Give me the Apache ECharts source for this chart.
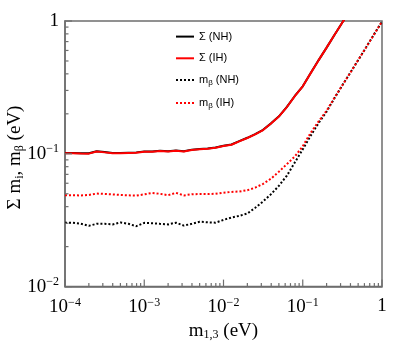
<!DOCTYPE html>
<html>
<head>
<meta charset="utf-8">
<script src="https://cdn.jsdelivr.net/npm/echarts@6/dist/echarts.min.js"></script>
<style>
  html, body { margin: 0; padding: 0; background: #fff; }
  #chart { width: 407px; height: 346px; }
</style>
</head>
<body>
<div id="chart"></div>
<script>
window.onerror = function (msg) {
  document.body.insertAdjacentHTML("beforeend", "<div style='position:absolute;left:0;top:0;font:9px sans-serif;color:#00f'>" + msg + "</div>");
};

// lightest mass m_1,3 (eV)
var m13 = [
  1.0e-4, 1.26e-4, 1.58e-4, 2.0e-4, 2.51e-4, 3.16e-4, 3.98e-4, 5.01e-4, 6.31e-4, 7.94e-4,
  1.0e-3, 1.26e-3, 1.58e-3, 2.0e-3, 2.51e-3, 3.16e-3, 3.98e-3, 5.01e-3, 6.31e-3, 7.94e-3,
  1.0e-2, 1.26e-2, 1.58e-2, 2.0e-2, 2.51e-2, 3.16e-2, 3.98e-2, 5.01e-2, 6.31e-2, 7.94e-2,
  0.1, 0.126, 0.158, 0.2, 0.251, 0.316, 0.398, 0.501, 0.631, 0.794, 1.0
];
// sum of masses
var sumNH = [
  0.1015, 0.1015, 0.101, 0.1008, 0.1045, 0.103, 0.1015, 0.1015, 0.102, 0.1025,
  0.104, 0.104, 0.1055, 0.1045, 0.106, 0.1045, 0.1075, 0.1085, 0.1095, 0.1115,
  0.115, 0.1175, 0.1245, 0.132, 0.1405, 0.1515, 0.1695, 0.1915, 0.2255, 0.2725,
  0.3225, 0.4055, 0.5055, 0.6305, 0.7855, 0.9755, 1.2
];
var sumIH = [
  0.101, 0.101, 0.1005, 0.1003, 0.104, 0.1025, 0.101, 0.101, 0.1015, 0.102,
  0.1035, 0.1035, 0.105, 0.104, 0.1055, 0.104, 0.107, 0.108, 0.109, 0.111,
  0.1145, 0.117, 0.124, 0.1315, 0.14, 0.151, 0.169, 0.191, 0.225, 0.272,
  0.322, 0.405, 0.505, 0.63, 0.785, 0.975, 1.2
];
// effective beta-decay mass
var mbNH = [
  0.0303, 0.0303, 0.0298, 0.0287, 0.0297, 0.0297, 0.0294, 0.0304, 0.0297, 0.0285,
  0.0302, 0.0300, 0.0297, 0.0294, 0.0303, 0.0288, 0.0297, 0.0308, 0.0305, 0.0303,
  0.0318, 0.0331, 0.0341, 0.0355, 0.0392, 0.0438, 0.0497, 0.0575, 0.0685, 0.0860,
  0.108, 0.137, 0.170, 0.208, 0.262, 0.328, 0.408, 0.508, 0.634, 0.793, 0.99
];
var mbIH = [
  0.0488, 0.0487, 0.0486, 0.0490, 0.0502, 0.0499, 0.0495, 0.0490, 0.0487, 0.0484,
  0.0495, 0.0507, 0.0500, 0.0488, 0.0508, 0.0486, 0.0496, 0.0498, 0.0497, 0.0500,
  0.0510, 0.0516, 0.0520, 0.0532, 0.0556, 0.0594, 0.0650, 0.0734, 0.0836, 0.0955,
  0.114, 0.144, 0.175, 0.211, 0.264, 0.328, 0.408, 0.508, 0.634, 0.793, 0.99
];
var xMajor = [1e-4, 1e-3, 1e-2, 1e-1, 1];
var yMajor = [1e-2, 1e-1, 1];
var xLabels = ["{b|10}{s|\u22124}", "{b|10}{s|\u22123}", "{b|10}{s|\u22122}", "{b|10}{s|\u22121}", "{b|1}"];
var yLabels = ["{b|10}{s|\u22122}", "{b|10}{s|\u22121}", "{b|1}"];

function minorTicks(lo, hi) {
  var out = [];
  for (var d = lo; d < hi; d++) {
    for (var k = 2; k <= 9; k++) out.push(k * Math.pow(10, d));
  }
  return out;
}

function pairs(vals) {
  return vals.map(function (v, i) { return [m13[i], v]; });
}

var serif = "Liberation Serif";
var grey = "#6e6e6e";
var richLab = {
  b: { fontFamily: serif, fontSize: 19, color: "#000" },
  s: { fontFamily: serif, fontSize: 12, color: "#000", padding: [0, 0, 9, 0] }
};

var myChart = echarts.init(document.getElementById("chart"));
var option = {
  animation: false,
  grid: { left: 65, right: 25, top: 21, bottom: 52, show: true, borderColor: grey, borderWidth: 1.5 },
  legend: {
    orient: "vertical",
    left: 170,
    top: 26,
    itemWidth: 18,
    itemHeight: 14,
    itemGap: 10.5,
    itemStyle: { opacity: 0 },
    textStyle: {
      fontFamily: "Liberation Sans",
      fontSize: 11,
      color: "#000",
      rich: {
        n: { fontFamily: "Liberation Sans", fontSize: 11, color: "#000" },
        sub: { fontFamily: "Liberation Sans", fontSize: 8, color: "#000", padding: [6, 0, 0, 0] }
      }
    },
    formatter: function (name) {
      if (name.indexOf("mb") === 0) return "{n|m}{sub|\u03b2}{n|" + name.slice(2) + "}";
      return "{n|" + name + "}";
    },
    data: ["\u03a3 (NH)", "\u03a3 (IH)", "mb (NH)", "mb (IH)"]
  },
  xAxis: {
    type: "log",
    min: 1e-4,
    max: 1,
    name: "{b|m}{sub|1,3}{b| (eV)}",
    nameLocation: "middle",
    nameGap: 32,
    nameTextStyle: {
      rich: {
        b: { fontFamily: serif, fontSize: 19, color: "#000" },
        sub: { fontFamily: serif, fontSize: 12, color: "#000", padding: [8, 0, 0, 0] }
      }
    },
    axisLine: { lineStyle: { color: grey, width: 1.5 } },
    axisTick: { show: false },
    splitLine: { show: false },
    axisLabel: {
      margin: 10,
      customValues: xMajor,
      formatter: function (v) { return xLabels[Math.round(Math.log10(v)) + 4]; },
      rich: richLab
    }
  },
  yAxis: {
    type: "log",
    min: 1e-2,
    max: 1,
    axisLine: { lineStyle: { color: grey, width: 1.5 } },
    axisTick: { show: false },
    splitLine: { show: false },
    axisLabel: {
      margin: 6,
      customValues: yMajor,
      formatter: function (v) { return yLabels[Math.round(Math.log10(v)) + 2]; },
      rich: richLab
    }
  },
  series: [
    {
      name: "\u03a3 (NH)",
      type: "line",
      symbol: "none",
      data: pairs(sumNH),
      lineStyle: { color: "#000", width: 2 },
      itemStyle: { color: "#000" }
    },
    {
      name: "\u03a3 (IH)",
      type: "line",
      symbol: "none",
      data: pairs(sumIH),
      lineStyle: { color: "#ff0000", width: 2 },
      itemStyle: { color: "#ff0000" }
    },
    {
      name: "mb (NH)",
      type: "line",
      symbol: "none",
      data: pairs(mbNH),
      lineStyle: { color: "#000", width: 2, type: [2, 2] },
      itemStyle: { color: "#000" }
    },
    {
      name: "mb (IH)",
      type: "line",
      symbol: "none",
      data: pairs(mbIH),
      lineStyle: { color: "#ff0000", width: 2, type: [2, 2] },
      itemStyle: { color: "#ff0000" }
    }
  ]
};
myChart.setOption(option);

// ticks inside the frame and the y title, placed through the chart's own scales
var gfx = [];
function tick(x, y, len, horizontal) {
  var p = myChart.convertToPixel({ gridIndex: 0 }, [x, y]);
  gfx.push({
    type: "line",
    silent: true,
    z: 100,
    shape: horizontal
      ? { x1: p[0], y1: p[1], x2: p[0] + len, y2: p[1] }
      : { x1: p[0], y1: p[1], x2: p[0], y2: p[1] - len },
    style: { stroke: grey, lineWidth: 1.2 }
  });
}
xMajor.forEach(function (v) { tick(v, 0.01, 7, false); });
minorTicks(-4, 0).forEach(function (v) { tick(v, 0.01, 3.5, false); });
yMajor.forEach(function (v) { tick(1e-4, v, 7, true); });
minorTicks(-2, 0).forEach(function (v) { tick(1e-4, v, 3.5, true); });

var mid = myChart.convertToPixel({ gridIndex: 0 }, [1e-4, 0.1]);
gfx.push({
  type: "text",
  silent: true,
  x: 15,
  y: (21 + 294) / 2,
  rotation: Math.PI / 2,
  style: {
    text: "{b|\u03a3 m}{sub|i}{b|, m}{sub|\u03b2}{b| (eV)}",
    align: "center",
    verticalAlign: "middle",
    rich: {
      b: { fontFamily: serif, fontSize: 19, fill: "#000" },
      sub: { fontFamily: serif, fontSize: 12, fill: "#000", padding: [9, 0, 0, 0] }
    }
  }
});
myChart.setOption({ graphic: { elements: gfx } });
</script>
</body>
</html>
